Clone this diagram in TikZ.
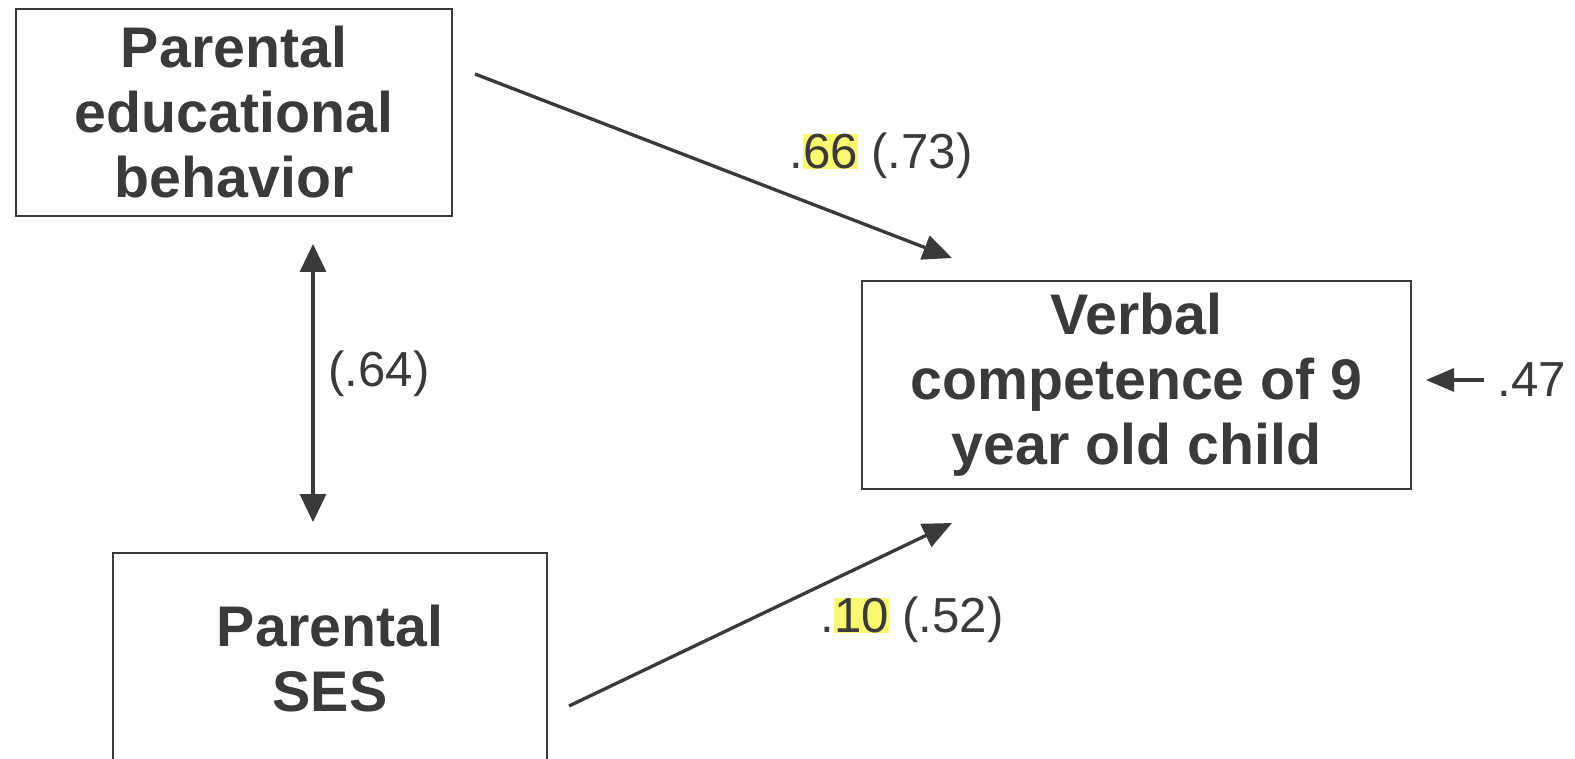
\documentclass[tikz,border=0pt]{standalone}
\usepackage{fontspec}
\setmainfont{Liberation Sans}
\usetikzlibrary{arrows.meta}
\definecolor{ink}{RGB}{58,58,58}
\definecolor{hl}{RGB}{250,248,110}
\newcommand{\hlt}[1]{{\setlength{\fboxsep}{0pt}\colorbox{hl}{#1}}}
\tikzset{
  varbox/.style={draw=ink, line width=1.2pt, inner sep=0pt, align=center,
    text=ink, font=\fontsize{32.6pt}{37pt}\selectfont\bfseries},
  coef/.style={text=ink, inner sep=0pt, font=\fontsize{28pt}{32pt}\selectfont},
  path/.style={draw=ink, line width=1.9pt, -{Triangle[length=0.58cm,width=0.5cm]}},
  both/.style={draw=ink, line width=1.9pt, {Triangle[length=0.56cm,width=0.52cm]}-{Triangle[length=0.56cm,width=0.52cm]}},
  resid/.style={draw=ink, line width=1.8pt, -{Triangle[length=0.56cm,width=0.46cm]}}
}
\begin{document}
\begin{tikzpicture}[x=0.02cm,y=-0.02cm]
\useasboundingbox[fill=white] (0,0) rectangle (1575,759);
\begin{scope}
\clip (0,0) rectangle (1575,759);
\node[varbox, minimum width=8.72cm, minimum height=4.14cm] (peb) at (234,112.5) {Parental\\educational\\behavior};
\node[varbox, minimum width=8.68cm, minimum height=4.24cm] (ses) at (330,659) {Parental\\SES};
\node[varbox, minimum width=10.98cm, minimum height=4.16cm] (vc) at (1136.5,385) {Verbal\\competence of 9\\year old child};
\end{scope}
\coordinate (a1s) at (475,74);
\coordinate (a1e) at (952,258);
\coordinate (a2s) at (569,706);
\coordinate (a2e) at (952,523);
\coordinate (ds) at (313,244);
\coordinate (de) at (313,522);
\coordinate (rs) at (1484,380);
\coordinate (re) at (1426,380);
\draw[path] (a1s) -- (a1e);
\draw[path] (a2s) -- (a2e);
\draw[both] (ds) -- (de);
\draw[resid] (rs) -- (re);
\node[coef] (l1) at (881,156) {.\hlt{66} (.73)};
\node[coef] (l2) at (912,620) {.\hlt{10} (.52)};
\node[coef] (l3) at (379,374) {(.64)};
\node[coef, anchor=west] (l4) at (1497,380) {.47};
\end{tikzpicture}
\end{document}
